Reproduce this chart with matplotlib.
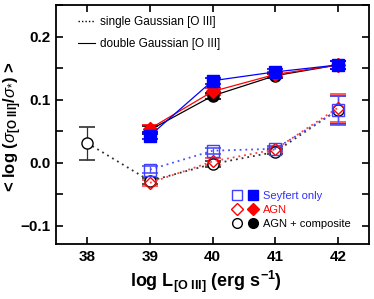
import matplotlib
matplotlib.use("Agg")
import matplotlib.pyplot as plt
from matplotlib.legend_handler import HandlerTuple
from matplotlib.lines import Line2D
from matplotlib.ticker import MultipleLocator

plt.rcParams['font.family'] = ['Liberation Sans', 'DejaVu Sans']
plt.rcParams['mathtext.fontset'] = 'custom'
plt.rcParams['mathtext.rm'] = 'Liberation Sans'
plt.rcParams['mathtext.it'] = 'Liberation Sans:italic'
plt.rcParams['mathtext.bf'] = 'Liberation Sans:bold'

# luminosity bins
x_all = [38, 39, 40, 41, 42]
x_main = [39, 40, 41, 42]

# double Gaussian (filled, solid)
dbl_sey = [0.043, 0.130, 0.144, 0.155]
dbl_sey_err = [0.006, 0.005, 0.004, 0.007]
dbl_agn = [0.054, 0.113, 0.140, 0.155]
dbl_agn_err = [0.006, 0.005, 0.004, 0.007]
dbl_comp = [0.052, 0.106, 0.138, 0.155]
dbl_comp_err = [0.006, 0.005, 0.004, 0.007]

# single Gaussian (open, dotted)
sgl_sey = [-0.011, 0.019, 0.022, 0.083]
sgl_sey_err = [0.005, 0.005, 0.004, 0.023]
sgl_agn = [-0.032, 0.002, 0.021, 0.087]
sgl_agn_err = [0.005, 0.005, 0.004, 0.022]
sgl_comp = [0.031, -0.029, -0.002, 0.017, 0.084]
sgl_comp_err = [0.026, 0.005, 0.005, 0.004, 0.022]

fig = plt.figure(figsize=(3.74, 2.99), dpi=100)
ax = fig.add_axes([0.150, 0.184, 0.837, 0.799])

dot = (0, (1, 2.2))
cap = 6
ms = 8

# single Gaussian, open markers
ax.errorbar(x_all, sgl_comp, yerr=sgl_comp_err, color='#303030', ls=dot, lw=1.3,
            marker='o', mfc='white', mec='black', ms=ms, capsize=cap, elinewidth=0.9, capthick=1.2)
ax.errorbar(x_main, sgl_agn, yerr=sgl_agn_err, color='#ff4040', ls=dot, lw=1.3,
            marker='D', mfc='none', mec='red', ms=ms-1.5, capsize=cap, elinewidth=0.9, capthick=1.2)
ax.errorbar(x_main, sgl_sey, yerr=sgl_sey_err, color='#5050ff', ls=dot, lw=1.3,
            marker='s', mfc='none', mec='#4040ff', ms=ms, capsize=cap, elinewidth=0.9, capthick=1.2)

# double Gaussian, filled markers
ax.errorbar(x_main, dbl_comp, yerr=dbl_comp_err, color='black', ls='-', lw=0.9,
            marker='o', mfc='black', mec='black', ms=ms, capsize=cap, elinewidth=0.9, capthick=1.2)
ax.errorbar(x_main, dbl_agn, yerr=dbl_agn_err, color='red', ls='-', lw=0.9,
            marker='D', mfc='red', mec='red', ms=ms-1, capsize=cap, elinewidth=0.9, capthick=1.2)
ax.errorbar(x_main, dbl_sey, yerr=dbl_sey_err, color='blue', ls='-', lw=0.9,
            marker='s', mfc='blue', mec='blue', ms=ms, capsize=cap, elinewidth=0.9, capthick=1.2)

ax.set_xlim(37.5, 42.5)
ax.set_ylim(-0.129, 0.25)
ax.set_xticks(x_all)
ax.set_xticklabels([str(v) for v in x_all])
ax.yaxis.set_minor_locator(MultipleLocator(0.05))
ax.set_yticks([-0.1, 0.0, 0.1, 0.2])
ax.set_yticklabels(['\u22120.1', '0.0', '0.1', '0.2'])
ax.tick_params(which='both', direction='in', top=True, right=True, length=5, width=1.2,
               labelsize=11, pad=4)
for lab in ax.get_xticklabels() + ax.get_yticklabels():
    lab.set_fontweight('bold')
for s in ax.spines.values():
    s.set_linewidth(1.3)

ax.set_xlabel(r'log L$_{\mathbf{[O\ III]}}$ (erg s$^{\mathbf{-1}}$)', fontsize=13,
              fontweight='bold')
ax.xaxis.set_label_coords(0.479, -0.105)
fig.text(13 / 374, 0.575, r'< log ($\sigma_{\mathbf{[O\ III]}}$/$\sigma_{*}$) >', fontsize=12,
         fontweight='bold', rotation=90, ha='center', va='center')

# line-style legend
h1 = Line2D([], [], color='black', ls=(0, (1, 1.5)), lw=1)
h2 = Line2D([], [], color='black', ls='-', lw=0.8)
leg1 = ax.legend([h1, h2], ['single Gaussian [O III]', 'double Gaussian [O III]'],
                 loc='upper left', bbox_to_anchor=(0.045, 0.987), frameon=False,
                 fontsize=8.5, handlelength=1.4, handletextpad=0.45, labelspacing=0.85,
                 borderaxespad=0.3)
ax.add_artist(leg1)

# sample legend
def mk(m, fill, c, size):
    return Line2D([], [], ls='none', marker=m, mfc=(c if fill else 'none'), mec=c, ms=size)

handles = [(mk('s', False, '#4040ff', 7), mk('s', True, 'blue', 7)),
           (mk('D', False, 'red', 6), mk('D', True, 'red', 6)),
           (mk('o', False, 'black', 7), mk('o', True, 'black', 7))]
labels = ['Seyfert only', 'AGN', 'AGN + composite']
leg2 = ax.legend(handles, labels, handler_map={tuple: HandlerTuple(ndivide=None, pad=0.6)},
                 loc='lower right', bbox_to_anchor=(0.972, 0.02), frameon=False,
                 fontsize=8, handlelength=2.4, handletextpad=0.4, labelspacing=0.38)
for t, c in zip(leg2.get_texts(), ['#3030ff', 'red', 'black']):
    t.set_color(c)

fig.savefig('out.png', dpi=100)
